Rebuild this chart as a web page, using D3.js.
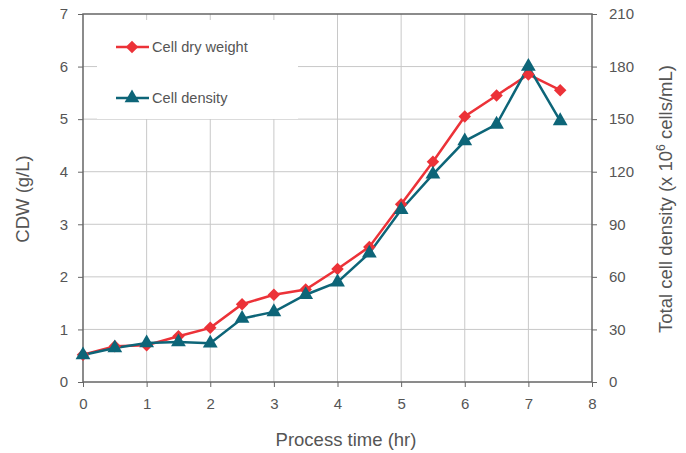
<!DOCTYPE html>
<html>
<head>
<meta charset="utf-8">
<script src="https://cdn.jsdelivr.net/npm/d3@7"></script>
<style>
  body { margin: 0; background: #fff; }
  text { font-family: "Liberation Sans", Arial, sans-serif; fill: #555; }
</style>
</head>
<body>
<svg id="chart" width="686" height="453"></svg>
<script>
// process time (hr)
var hours = [0, 0.5, 1, 1.5, 2, 2.5, 3, 3.5, 4, 4.5, 5, 5.5, 6, 6.5, 7, 7.5];
// cell dry weight (g/L)
var cdw = [0.52, 0.68, 0.70, 0.87, 1.03, 1.48, 1.66, 1.76, 2.15, 2.57, 3.38, 4.19, 5.05, 5.45, 5.85, 5.55];
// total cell density (x 10^6 cells/mL)
var density = [15.4, 19.4, 22.2, 22.8, 22.1, 36.2, 40, 49.8, 57, 73.5, 98.3, 118.5, 137.5, 147, 180, 149];

var xTicks = [0, 1, 2, 3, 4, 5, 6, 7, 8];
var leftTicks = [0, 1, 2, 3, 4, 5, 6, 7];
var rightTicks = [0, 30, 60, 90, 120, 150, 180, 210];

var red = '#ec3238', teal = '#0d6578';
var pL = 83, pR = 592, pT = 14, pB = 382;

var svg = d3.select('#chart');
var x = d3.scaleLinear().domain([0, 8]).range([pL, pR]);
var yL = d3.scaleLinear().domain([0, 7]).range([pB, pT]);
var yR = d3.scaleLinear().domain([0, 210]).range([pB, pT]);

// grid
var grid = svg.append('g').attr('stroke', '#c8c8c8').attr('stroke-width', 1);
grid.selectAll('.gx').data(xTicks.slice(1, -1)).enter().append('line')
    .attr('x1', function(d){ return x(d); }).attr('x2', function(d){ return x(d); })
    .attr('y1', pT).attr('y2', pB);
grid.selectAll('.gy').data(leftTicks.slice(1, -1)).enter().append('line')
    .attr('y1', function(d){ return yL(d); }).attr('y2', function(d){ return yL(d); })
    .attr('x1', pL).attr('x2', pR);

// legend background hides the grid
svg.append('rect').attr('x', 97).attr('y', 20).attr('width', 201).attr('height', 99).attr('fill', '#fff');

// axes
function styleAxis(g) {
    g.select('.domain').remove();
    g.selectAll('.tick line').attr('stroke', '#666');
    g.selectAll('.tick text').attr('fill', '#555').style('font-size', '15px')
        .style('font-family', '"Liberation Sans", Arial, sans-serif');
}
svg.append('g').attr('transform', 'translate(0,' + pB + ')')
    .call(d3.axisBottom(x).tickValues(xTicks).tickSize(5).tickPadding(11).tickFormat(d3.format('d')))
    .call(styleAxis);
svg.append('g').attr('transform', 'translate(' + pL + ',0)')
    .call(d3.axisLeft(yL).tickValues(leftTicks).tickSize(5).tickPadding(10).tickFormat(d3.format('d')))
    .call(styleAxis);
svg.append('g').attr('transform', 'translate(' + pR + ',0)')
    .call(d3.axisRight(yR).tickValues(rightTicks).tickSize(5).tickPadding(12).tickFormat(d3.format('d')))
    .call(styleAxis);

// frame
svg.append('rect').attr('x', pL).attr('y', pT).attr('width', pR - pL).attr('height', pB - pT)
    .attr('fill', 'none').attr('stroke', '#666').attr('stroke-width', 1.5);

// series
var lineL = d3.line().x(function(d, i){ return x(hours[i]); }).y(function(d){ return yL(d); });
var lineR = d3.line().x(function(d, i){ return x(hours[i]); }).y(function(d){ return yR(d); });

svg.append('path').datum(cdw).attr('d', lineL).attr('fill', 'none').attr('stroke', red).attr('stroke-width', 2.5);
svg.append('path').datum(density).attr('d', lineR).attr('fill', 'none').attr('stroke', teal).attr('stroke-width', 2.5);

// diamond = square turned 45deg
var diamond = d3.symbol().type(d3.symbolSquare).size(78);
var triangle = d3.symbol().type(d3.symbolTriangle).size(95);

svg.selectAll('.m1').data(cdw).enter().append('path')
    .attr('d', diamond)
    .attr('transform', function(d, i){ return 'translate(' + x(hours[i]) + ',' + yL(d) + ') rotate(45)'; })
    .attr('fill', red);
svg.selectAll('.m2').data(density).enter().append('path')
    .attr('d', triangle)
    .attr('transform', function(d, i){ return 'translate(' + x(hours[i]) + ',' + yR(d) + ')'; })
    .attr('fill', teal);

// legend
var legend = [
    {name: 'Cell dry weight', color: red, sym: diamond, y: 47, rot: 45},
    {name: 'Cell density', color: teal, sym: triangle, y: 98, rot: 0}
];
var lg = svg.selectAll('.lg').data(legend).enter().append('g')
    .attr('transform', function(d){ return 'translate(0,' + d.y + ')'; });
lg.append('line').attr('x1', 116).attr('x2', 149).attr('stroke', function(d){ return d.color; }).attr('stroke-width', 2.5);
lg.append('path').attr('d', function(d){ return d.sym(); }).attr('fill', function(d){ return d.color; })
    .attr('transform', function(d){ return 'translate(132,0) rotate(' + d.rot + ')'; });
lg.append('text').attr('x', 152).attr('y', 5).style('font-size', '14.6px').text(function(d){ return d.name; });

// axis titles
svg.append('text').attr('x', 346).attr('y', 446).attr('text-anchor', 'middle')
    .style('font-size', '18.5px').text('Process time (hr)');
svg.append('text').attr('transform', 'translate(29,199) rotate(-90)').attr('text-anchor', 'middle')
    .style('font-size', '18.5px').text('CDW (g/L)');
var rt = svg.append('text').attr('transform', 'translate(672,199) rotate(-90)').attr('text-anchor', 'middle')
    .style('font-size', '18.5px');
rt.append('tspan').text('Total cell density (x 10');
rt.append('tspan').attr('dy', -7).style('font-size', '12px').text('6');
rt.append('tspan').attr('dy', 7).text(' cells/mL)');
</script>
</body>
</html>
